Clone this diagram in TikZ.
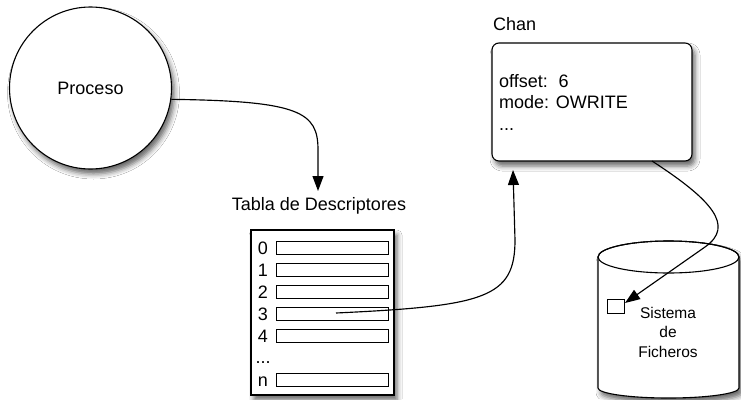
\documentclass[tikz,border=0pt]{standalone}
\usepackage{fontspec}
\setmainfont{Liberation Sans}
\usetikzlibrary{arrows.meta,shadows.blur,calc}

\tikzset{
  outline/.style={draw=black, line width=1.1pt},
  softshadow/.style={blur shadow={shadow xshift=3pt, shadow yshift=-5pt,
      shadow blur radius=5pt, shadow opacity=60}},
  conn/.style={draw=black, line width=1.15pt},
  tip/.style={-{Triangle[length=15pt,width=11pt]}},
  bigtxt/.style={font=\fontsize{18}{21.5}\selectfont, inner sep=0pt},
  smalltxt/.style={font=\fontsize{15.5}{19.5}\selectfont, inner sep=0pt},
  slotbox/.style={outline, line width=1pt, minimum width=112pt, minimum height=13pt,
      inner sep=0pt, fill=white},
}

\begin{document}
\begin{tikzpicture}[x=1pt, y=-1pt]
  % page frame
  \fill[white] (0,0) rectangle (741,399);
  \useasboundingbox (0,0) rectangle (741,399);

  % the process
  \node[outline, circle, fill=white, softshadow, minimum size=162pt, inner sep=0pt,
        bigtxt] (proc) at (90.5,88) {Proceso};

  % descriptor table
  \node[bigtxt, anchor=base] (tablalbl) at (319,210) {Tabla de Descriptores};
  \node[outline, fill=white, softshadow, minimum width=143pt, minimum height=165pt,
        inner sep=0pt] (tabla) at (322.5,312.5) {};
  \foreach \lbl/\yc [count=\i] in {0/248, 1/270, 2/292, 3/314, 4/336, n/380} {
    \node[slotbox] (slot\i) at (332,\yc) {};
    \node[bigtxt, anchor=base] (num\i) at (263,\yc+6.5) {\lbl};
  }
  \node[bigtxt, anchor=base] (dots) at (263,363) {...};

  % the channel
  \node[bigtxt, anchor=base west] (chanlbl) at (493,30) {Chan};
  \node[outline, fill=white, softshadow, rounded corners=7pt, minimum width=200pt,
        minimum height=118pt, inner sep=0pt] (chan) at (592,102) {};
  \node[bigtxt, anchor=base west] (offs) at (499,87) {offset:\hspace{0.6em}6};
  \node[bigtxt, anchor=base west] (mode) at (499,108) {mode: OWRITE};
  \node[bigtxt, anchor=base west] (more) at (499,130) {...};

  % file system cylinder
  \path[outline, fill=white, softshadow]
    (598,257) -- (598,388)
    arc[start angle=180, end angle=360, x radius=70.5pt, y radius=10pt]
    -- (739,257)
    arc[start angle=0, end angle=180, x radius=70.5pt, y radius=16pt] -- cycle;
  \draw[outline] (668.5,257) ellipse[x radius=70.5pt, y radius=16pt];
  \node[outline, line width=1pt, fill=white, minimum width=17pt, minimum height=14pt,
        inner sep=0pt] (fsq) at (615.5,306) {};
  \node[smalltxt, anchor=base] (fs1) at (668,318) {Sistema};
  \node[smalltxt, anchor=base] (fs2) at (668,337) {de};
  \node[smalltxt, anchor=base] (fs3) at (668,357) {Ficheros};

  % connector end points
  \coordinate (tablain) at (318,191);
  \coordinate (slotpt) at (336,313);
  \coordinate (chanin) at (513,170);
  \coordinate (chanout) at (652,161);
  \coordinate (fsin) at (625,303);

  % connectors
  \draw[conn, tip] (proc.-8) .. controls (300,101) and (318,112) .. (318,150) -- (tablain);
  \draw[conn, tip] (slotpt) .. controls (485,306) and (515,298) .. (515,240) -- (chanin);
  \draw[conn, tip] (chanout) .. controls (712,200) and (735,226) .. (705,247) -- (fsin);
\end{tikzpicture}
\end{document}
